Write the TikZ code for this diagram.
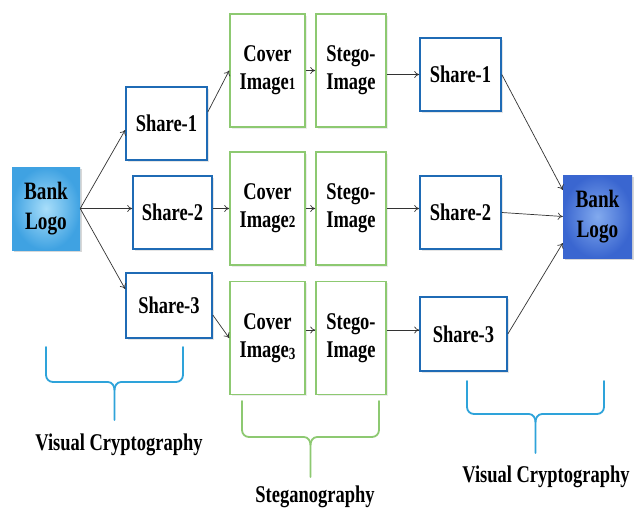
\documentclass[tikz,border=0pt]{standalone}
\usepackage{fontspec}
\setmainfont{Liberation Serif}[FakeStretch=0.77]
\usetikzlibrary{shadows,arrows.meta,calc}
\definecolor{sharebl}{HTML}{1F6BB5}
\definecolor{covgr}{HTML}{8DC971}
\definecolor{bracebl}{HTML}{2EA3DA}
\definecolor{arr}{HTML}{333333}
\definecolor{logoLin}{HTML}{A8DEFA}
\definecolor{logoLout}{HTML}{3FA2E2}
\definecolor{logoRin}{HTML}{82AAEE}
\definecolor{logoRout}{HTML}{3A66D0}
\newcommand{\osn}[1]{{\fontsize{17}{17}\selectfont #1}}
\tikzset{
  lbl/.style={font=\fontsize{24}{28}\selectfont\bfseries, align=center, inner sep=0pt},
  sharebox/.style={lbl, draw=sharebl, line width=1.6pt, fill=white,
     drop shadow={opacity=0.2, shadow xshift=1.5pt, shadow yshift=-1.5pt}},
  coverbox/.style={lbl, draw=covgr, line width=1.6pt, fill=white,
     drop shadow={opacity=0.15, shadow xshift=1.5pt, shadow yshift=-1.5pt}},
  logobox/.style={lbl, font=\fontsize{25}{30}\selectfont\bfseries,
     drop shadow={opacity=0.3, shadow xshift=2pt, shadow yshift=-2pt}},
  conn/.style={draw=arr, line width=0.7pt, -{To[length=5pt,width=7pt]}},
  bracebluestyle/.style={draw=bracebl, line width=1.8pt, line cap=round},
  bracegreenstyle/.style={draw=covgr, line width=1.8pt, line cap=round},
  caption/.style={font=\fontsize{24}{28}\selectfont\bfseries, inner sep=0pt}
}
\begin{document}
\begin{tikzpicture}[x=1pt,y=-1pt]
\fill[white] (0,0) rectangle (640,528);
\useasboundingbox (0,0) rectangle (640,528);

% logos
\node[logobox, minimum width=68pt, minimum height=83pt, inner color=logoLin, outer color=logoLout] (logoL) at (46,208.5) {Bank\\Logo};
\node[logobox, minimum width=69pt, minimum height=83pt, inner color=logoRin, outer color=logoRout] (logoR) at (597.5,216.5) {Bank\\Logo};

% left shares
\node[sharebox, minimum width=81pt, minimum height=73pt] (s1L) at (166.5,123.5) {Share-1};
\node[sharebox, minimum width=79pt, minimum height=73pt] (s2L) at (172.5,212.5) {Share-2};
\node[sharebox, minimum width=86pt, minimum height=65pt] (s3L) at (169,305.5) {Share-3};

% cover / stego
\node[coverbox, minimum width=75pt, minimum height=113pt] (c1) at (267.5,70.5) {Cover\\Image\osn{1}};
\node[coverbox, minimum width=70pt, minimum height=113pt] (st1) at (351,70.5) {Stego-\\Image};
\node[coverbox, minimum width=75pt, minimum height=113pt] (c2) at (267.5,208.5) {Cover\\Image\osn{2}};
\node[coverbox, minimum width=70pt, minimum height=113pt] (st2) at (351,208.5) {Stego-\\Image};
\node[coverbox, minimum width=75pt, minimum height=113pt] (c3) at (267.5,338) {Cover\\Image\raisebox{-2pt}{\osn{3}}};
\node[coverbox, minimum width=70pt, minimum height=113pt] (st3) at (351,338) {Stego-\\Image};

% right shares
\node[sharebox, minimum width=81pt, minimum height=73pt] (s1R) at (460.5,74.5) {Share-1};
\node[sharebox, minimum width=81pt, minimum height=73pt] (s2R) at (460.5,212.5) {Share-2};
\node[sharebox, minimum width=87pt, minimum height=74pt] (s3R) at (463.5,334) {Share-3};

% connectors
\draw[conn] (logoL.east) -- ([yshift=-6.5pt]s1L.west);
\draw[conn] (logoL.east) -- (logoL.east -| s2L.west);
\draw[conn] (logoL.east) -- ([yshift=16.5pt]s3L.west);

\draw[conn] ([yshift=11.5pt]s1L.east) -- (c1.west);
\draw[conn] (s2L.east |- c2.west) -- (c2.west);
\draw[conn] ([yshift=-9.5pt]s3L.east) -- (c3.west);

\draw[conn] (c1.east) -- (st1.west);
\draw[conn] (c2.east) -- (st2.west);
\draw[conn] ([yshift=8pt]c3.east) -- ([yshift=8pt]st3.west);

\draw[conn] (st1.east |- s1R.west) -- (s1R.west);
\draw[conn] (st2.east) -- (st2.east -| s2R.west);
\draw[conn] ([yshift=8pt]st3.east) -- ([yshift=8pt]st3.east -| s3R.west);

\draw[conn] (s1R.east) -- ([yshift=26.5pt]logoR.west);
\draw[conn] (s2R.east) -- (logoR.west);
\draw[conn] (s3R.east) -- ([yshift=-26.5pt]logoR.west);

% braces
\draw[bracebluestyle] (46,347) -- (46,375) to[out=-90,in=180] (53,382) -- (108,382) to[out=0,in=90] (114.5,390) -- (114.5,420);
\draw[bracebluestyle] (183,347) -- (183,375) to[out=-90,in=0] (176,382) -- (121,382) to[out=180,in=90] (114.5,390);
\node[caption] (vc1) at (119,445) {Visual Cryptography};

\draw[bracegreenstyle] (242,401) -- (242,430) to[out=-90,in=180] (249,437) -- (304,437) to[out=0,in=90] (310.5,445) -- (310.5,477);
\draw[bracegreenstyle] (379,401) -- (379,430) to[out=-90,in=0] (372,437) -- (317,437) to[out=180,in=90] (310.5,445);
\node[caption] (steg) at (315,497) {Steganography};

\draw[bracebluestyle] (467,381) -- (467,407) to[out=-90,in=180] (474,414) -- (529,414) to[out=0,in=90] (535.5,422) -- (535.5,453);
\draw[bracebluestyle] (604,381) -- (604,407) to[out=-90,in=0] (597,414) -- (542,414) to[out=180,in=90] (535.5,422);
\node[caption] (vc2) at (546,477) {Visual Cryptography};
\end{tikzpicture}
\end{document}
